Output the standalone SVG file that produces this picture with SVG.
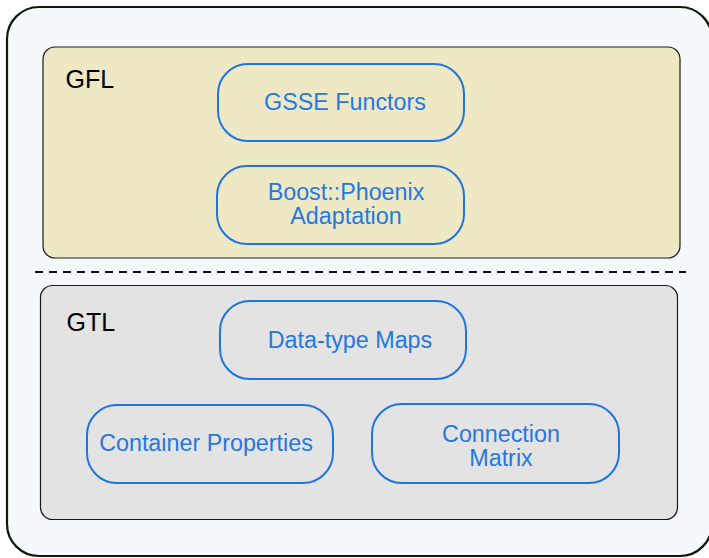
<svg xmlns="http://www.w3.org/2000/svg" width="709" height="558" viewBox="0 0 709 558">
<style>
.layer{stroke:#1a1a1a;stroke-width:1.2}
.node{fill:none;stroke:#1f74dd;stroke-width:2}
.nt{font-family:"Liberation Sans",Arial,sans-serif;font-size:23.3px;fill:#2478e0;text-anchor:middle}
.lt{font-family:"Liberation Sans",Arial,sans-serif;font-size:25px;fill:#000}
</style>
<rect width="709" height="558" fill="#ffffff"/>
<rect x="7" y="7" width="705" height="549" rx="32" fill="#f5f9fb" stroke="#0c1a0c" stroke-width="2.2"/>
<g id="gfl">
<rect class="layer" x="43" y="47" width="637" height="211" rx="12" fill="#eee8c5"/>
<text class="lt" x="65.5" y="88">GFL</text>
</g>
<g id="gtl">
<rect class="layer" x="40.5" y="285.5" width="637" height="234" rx="12" fill="#e3e3e3"/>
<text class="lt" x="66.5" y="331">GTL</text>
</g>
<g id="connectors">
<line x1="35" y1="272" x2="686" y2="272" stroke="#111" stroke-width="2" stroke-dasharray="8,6"/>
</g>
<g id="gsse">
<rect class="node" x="218" y="64" width="246" height="77" rx="30"/>
<text class="nt" x="345" y="110">GSSE Functors</text>
</g>
<g id="phoenix">
<rect class="node" x="217" y="166" width="247" height="78" rx="30"/>
<text class="nt" x="346" y="199.5">Boost::Phoenix</text>
<text class="nt" x="346" y="223.5">Adaptation</text>
</g>
<g id="datatype">
<rect class="node" x="220" y="301" width="246" height="78" rx="30"/>
<text class="nt" x="350" y="348">Data-type Maps</text>
</g>
<g id="container">
<rect class="node" x="87" y="405" width="246" height="78" rx="30"/>
<text class="nt" x="206" y="451">Container Properties</text>
</g>
<g id="matrix">
<rect class="node" x="372" y="404" width="247" height="79" rx="30"/>
<text class="nt" x="501" y="441.5">Connection</text>
<text class="nt" x="501" y="465.5">Matrix</text>
</g>
</svg>
